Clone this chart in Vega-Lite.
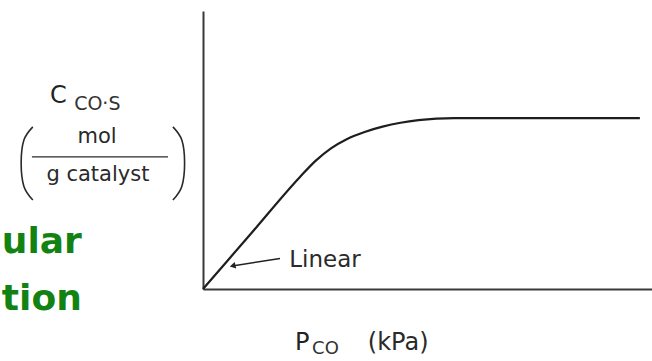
{
  "$schema": "https://vega.github.io/schema/vega-lite/v6.json",
  "width": 449,
  "height": 278,
  "autosize": {"type": "none"},
  "padding": {"left": 203, "top": 11, "right": 0, "bottom": 72},
  "background": "white",
  "config": {
    "view": {"stroke": null},
    "axis": {"domain": true, "domainColor": "#3a3a3a", "domainWidth": 2, "ticks": false, "labels": false, "grid": false}
  },
  "layer": [
    {
      "data": {"values": [
        {"P": 0, "C": 0},
        {"P": 10.8, "C": 20.15},
        {"P": 21.6, "C": 40.3},
        {"P": 25.0, "C": 46.0},
        {"P": 28.5, "C": 50.6},
        {"P": 32.0, "C": 53.9},
        {"P": 36.0, "C": 56.5},
        {"P": 40.0, "C": 58.4},
        {"P": 44.0, "C": 59.8},
        {"P": 48.0, "C": 60.75},
        {"P": 52.0, "C": 61.3},
        {"P": 56.0, "C": 61.5},
        {"P": 97.3, "C": 61.5}
      ]},
      "mark": {"type": "line", "interpolate": "monotone", "stroke": "#1e1e1e", "strokeWidth": 2.2},
      "encoding": {
        "x": {"field": "P", "type": "quantitative", "title": null, "scale": {"domain": [0, 100], "nice": false, "zero": false}},
        "y": {"field": "C", "type": "quantitative", "title": null, "scale": {"domain": [0, 100], "nice": false, "zero": false}}
      }
    },
    {
      "data": {"values": [
        {"P": 17.15, "C": 11.0},
        {"P": 6.5, "C": 8.3}
      ]},
      "mark": {"type": "line", "stroke": "#222", "strokeWidth": 1.5},
      "encoding": {
        "x": {"field": "P", "type": "quantitative", "title": null, "scale": {"domain": [0, 100], "nice": false, "zero": false}},
        "y": {"field": "C", "type": "quantitative", "title": null, "scale": {"domain": [0, 100], "nice": false, "zero": false}}
      }
    },
    {
      "data": {"values": [{"P": 6.6, "C": 8.3}]},
      "mark": {"type": "point", "shape": "triangle-left", "filled": true, "fill": "#222", "size": 45, "opacity": 1, "angle": -13},
      "encoding": {
        "x": {"field": "P", "type": "quantitative", "title": null, "scale": {"domain": [0, 100], "nice": false, "zero": false}},
        "y": {"field": "C", "type": "quantitative", "title": null, "scale": {"domain": [0, 100], "nice": false, "zero": false}}
      }
    },
    {
      "data": {"values": [
        {"paren": "left", "i": 1, "P": -37.9, "C": 58.3},
        {"paren": "left", "i": 2, "P": -39.9, "C": 53.5},
        {"paren": "left", "i": 3, "P": -40.5, "C": 45.3},
        {"paren": "left", "i": 4, "P": -39.9, "C": 37.0},
        {"paren": "left", "i": 5, "P": -37.9, "C": 32.0},
        {"paren": "right", "i": 1, "P": -6.7, "C": 58.3},
        {"paren": "right", "i": 2, "P": -4.7, "C": 53.5},
        {"paren": "right", "i": 3, "P": -4.1, "C": 45.3},
        {"paren": "right", "i": 4, "P": -4.7, "C": 37.0},
        {"paren": "right", "i": 5, "P": -6.7, "C": 32.0}
      ]},
      "mark": {"type": "line", "interpolate": "cardinal", "stroke": "#2a2a2a", "strokeWidth": 1.6},
      "encoding": {
        "x": {"field": "P", "type": "quantitative", "title": null, "scale": {"domain": [0, 100], "nice": false, "zero": false}},
        "y": {"field": "C", "type": "quantitative", "title": null, "scale": {"domain": [0, 100], "nice": false, "zero": false}},
        "detail": {"field": "paren", "type": "nominal"},
        "order": {"field": "i", "type": "quantitative"}
      }
    },
    {
      "data": {"values": [{"P": -38.1, "P2": -7.8, "C": 47.5}]},
      "mark": {"type": "rule", "stroke": "#2a2a2a", "strokeWidth": 1.3},
      "encoding": {
        "x": {"field": "P", "type": "quantitative", "title": null, "scale": {"domain": [0, 100], "nice": false, "zero": false}},
        "x2": {"field": "P2"},
        "y": {"field": "C", "type": "quantitative", "title": null, "scale": {"domain": [0, 100], "nice": false, "zero": false}}
      }
    },
    {
      "data": {"values": [
        {"P": -34.1, "C": 66.9, "label": "C"},
        {"P": 20.5, "C": -21.9, "label": "P"}
      ]},
      "mark": {"type": "text", "align": "left", "baseline": "alphabetic", "font": "DejaVu Sans", "fontSize": 24, "fill": "#222"},
      "encoding": {
        "x": {"field": "P", "type": "quantitative", "title": null, "scale": {"domain": [0, 100], "nice": false, "zero": false}},
        "y": {"field": "C", "type": "quantitative", "title": null, "scale": {"domain": [0, 100], "nice": false, "zero": false}},
        "text": {"field": "label"}
      }
    },
    {
      "data": {"values": [
        {"P": -28.7, "C": 64.4, "label": "CO·S"}
      ]},
      "mark": {"type": "text", "align": "left", "baseline": "alphabetic", "font": "DejaVu Sans", "fontSize": 19, "fill": "#333"},
      "encoding": {
        "x": {"field": "P", "type": "quantitative", "title": null, "scale": {"domain": [0, 100], "nice": false, "zero": false}},
        "y": {"field": "C", "type": "quantitative", "title": null, "scale": {"domain": [0, 100], "nice": false, "zero": false}},
        "text": {"field": "label"}
      }
    },
    {
      "data": {"values": [
        {"P": 24.3, "C": -23.5, "label": "CO"}
      ]},
      "mark": {"type": "text", "align": "left", "baseline": "alphabetic", "font": "DejaVu Sans", "fontSize": 18, "fill": "#333"},
      "encoding": {
        "x": {"field": "P", "type": "quantitative", "title": null, "scale": {"domain": [0, 100], "nice": false, "zero": false}},
        "y": {"field": "C", "type": "quantitative", "title": null, "scale": {"domain": [0, 100], "nice": false, "zero": false}},
        "text": {"field": "label"}
      }
    },
    {
      "data": {"values": [
        {"P": -23.6, "C": 52.5, "label": "mol"},
        {"P": -23.4, "C": 38.8, "label": "g catalyst"}
      ]},
      "mark": {"type": "text", "align": "center", "baseline": "alphabetic", "font": "DejaVu Sans", "fontSize": 21, "fill": "#2a2a2a"},
      "encoding": {
        "x": {"field": "P", "type": "quantitative", "title": null, "scale": {"domain": [0, 100], "nice": false, "zero": false}},
        "y": {"field": "C", "type": "quantitative", "title": null, "scale": {"domain": [0, 100], "nice": false, "zero": false}},
        "text": {"field": "label"}
      }
    },
    {
      "data": {"values": [
        {"P": 19.2, "C": 7.9, "label": "Linear"}
      ]},
      "mark": {"type": "text", "align": "left", "baseline": "alphabetic", "font": "DejaVu Sans", "fontSize": 23, "fill": "#2a2a2a"},
      "encoding": {
        "x": {"field": "P", "type": "quantitative", "title": null, "scale": {"domain": [0, 100], "nice": false, "zero": false}},
        "y": {"field": "C", "type": "quantitative", "title": null, "scale": {"domain": [0, 100], "nice": false, "zero": false}},
        "text": {"field": "label"}
      }
    },
    {
      "data": {"values": [
        {"P": 36.7, "C": -21.9, "label": "(kPa)"}
      ]},
      "mark": {"type": "text", "align": "left", "baseline": "alphabetic", "font": "DejaVu Sans", "fontSize": 24, "fill": "#2a2a2a"},
      "encoding": {
        "x": {"field": "P", "type": "quantitative", "title": null, "scale": {"domain": [0, 100], "nice": false, "zero": false}},
        "y": {"field": "C", "type": "quantitative", "title": null, "scale": {"domain": [0, 100], "nice": false, "zero": false}},
        "text": {"field": "label"}
      }
    },
    {
      "data": {"values": [
        {"P": -44.8, "C": 12.9, "label": "ular"},
        {"P": -44.8, "C": -7.6, "label": "tion"}
      ]},
      "mark": {"type": "text", "align": "left", "baseline": "alphabetic", "font": "DejaVu Sans", "fontWeight": "bold", "fontSize": 36, "fill": "#128312"},
      "encoding": {
        "x": {"field": "P", "type": "quantitative", "title": null, "scale": {"domain": [0, 100], "nice": false, "zero": false}},
        "y": {"field": "C", "type": "quantitative", "title": null, "scale": {"domain": [0, 100], "nice": false, "zero": false}},
        "text": {"field": "label"}
      }
    }
  ]
}
